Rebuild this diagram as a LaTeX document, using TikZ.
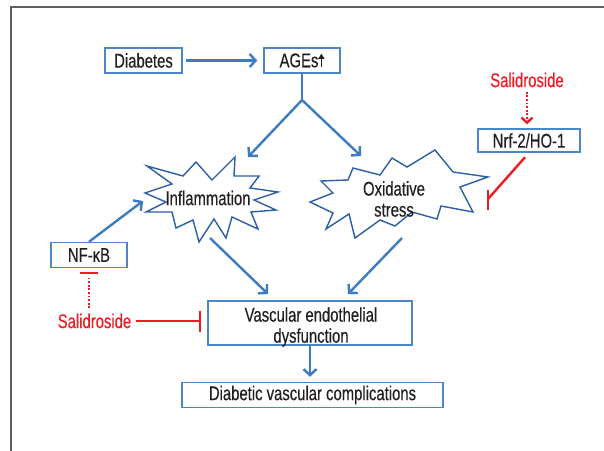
\documentclass[tikz,border=0pt]{standalone}
\usepackage{fontspec}
\setmainfont{Liberation Sans}[FakeStretch=0.75,FakeBold=0.3]
\usetikzlibrary{arrows.meta}
\definecolor{boxblue}{HTML}{4A86C8}
\definecolor{arrblue}{HTML}{3B7BC1}
\definecolor{starblue}{HTML}{2B5EA7}
\definecolor{inhred}{HTML}{ED1C24}
\definecolor{txt}{HTML}{231F20}
\definecolor{framegray}{HTML}{5E5E5E}
\begin{document}
\begin{tikzpicture}[x=1pt,y=-1pt,
  every node/.style={font=\fontsize{19.8}{21}\selectfont, text=txt},
  bx/.style={draw=boxblue,line width=1.5pt,fill=white,inner sep=0pt},
  arr/.style={draw=arrblue,line width=2.4pt,-{Straight Barb[length=6pt,width=13pt,line width=2.4pt]}},
  star/.style={draw=starblue,line width=1.4pt,fill=white,line join=miter},
  inhline/.style={draw=inhred,line width=2.4pt},
  inhdot/.style={draw=inhred,line width=2.4pt,dash pattern=on 1.8pt off 1.8pt},
  redtext/.style={text=inhred}
]
\fill[white] (0,0) rectangle (604,450);
\useasboundingbox (0,0) rectangle (604,450);
\draw[framegray,line width=1.8pt] (11,451) -- (11,7) -- (605,7);

% stars
\draw[star] (145,193) -- (172,184) -- (147,166) -- (183,176) -- (196,162) -- (212,180) -- (235,157) -- (234,176) -- (259,176) -- (250,188) -- (278,192) -- (254,200) -- (276,210) -- (251,212) -- (258,229) -- (232,217) -- (226,238) -- (214,219) -- (199,242) -- (193,220) -- (176,228) -- (172,212) -- (146,212) -- (166,202) -- cycle;
\draw[star] (310,202) -- (333,193) -- (321,181) -- (348,180) -- (353,168) -- (380,175) -- (392,158) -- (407,167) -- (435,150) -- (453,172) -- (488,177) -- (460,187) -- (473,212) -- (441,206) -- (437,219) -- (412,212) -- (395,226) -- (380,220) -- (355,238) -- (349,214) -- (326,229) -- (333,213) -- cycle;

\node (inf) at (208,198) {Inflammation};
\node[align=center] (oxi) at (394,199) {Oxidative\\stress};

% boxes
\node[bx,minimum width=77pt,minimum height=25pt] (diab) at (143.5,60.5) {Diabetes};
\node[bx,minimum width=76pt,minimum height=25pt] (ages) at (302,60.5) {AGEs\tikz[baseline=0pt,x=1pt,y=1pt]\draw[txt,line width=1.3pt,-{Triangle[length=5pt,width=6pt]}] (0,0)--(0,13.5);};
\node[bx,minimum width=102pt,minimum height=23pt] (nrf) at (529,140.5) {Nrf-2/HO-1};
\node[bx,minimum width=76pt,minimum height=25pt] (nf) at (89,255) {NF-κB};
\node[bx,minimum width=204pt,minimum height=44pt] (vasc) at (310,323) {};
\node[align=center] (vasctxt) at (311,327) {Vascular endothelial\\dysfunction};
\node[bx,minimum width=261pt,minimum height=25pt] (comp) at (312.5,395) {Diabetic vascular complications};

\node[redtext] (salR) at (527,80) {Salidroside};
\node[redtext] (salL) at (94.5,321) {Salidroside};

% blue connectors
\draw[arr,shorten <=3pt,shorten >=6pt] (diab) -- (ages);
\coordinate (br) at (302,100);
\coordinate (infT) at (248,157);
\coordinate (oxiT) at (361,156);
\draw[draw=arrblue,line width=2.4pt] (ages.south) -- (br);
\draw[arr] (br) -- (infT);
\draw[arr] (br) -- (oxiT);
\coordinate (nfT) at (143,201);
\draw[arr] (nf.north) -- (nfT);
\coordinate (infB) at (210,238);
\coordinate (vascL) at (268,294);
\draw[arr] (infB) -- (vascL);
\coordinate (oxiB) at (402,238);
\coordinate (vascR) at (348,294);
\draw[arr] (oxiB) -- (vascR);
\draw[arr,shorten >=5pt] (vasc.south) -- (vasc.south |- comp.north);

% red connectors
\draw[inhdot,-{Straight Barb[length=5pt,width=11pt,line width=2.4pt]},shorten <=1pt,shorten >=4pt] (salR.south) -- (salR.south |- nrf.north);
\coordinate (oxiInh) at (488,199);
\draw[inhline,shorten <=6pt] (nrf.south) -- (oxiInh);
\draw[inhline] (oxiInh) ++(0,-9) -- ++(0,20);
\coordinate (nfBar) at (89,273);
\draw[inhdot,shorten <=2pt,shorten >=5pt] (salL.north -| nf.south) -- (nfBar);
\draw[inhline] (nfBar) ++(-9,0) -- ++(18,0);
\draw[inhline,-{Bar[width=21pt,line width=2.4pt]},shorten <=1pt,shorten >=6pt] (salL.east) -- (vasc.west |- salL.east);
\end{tikzpicture}
\end{document}
